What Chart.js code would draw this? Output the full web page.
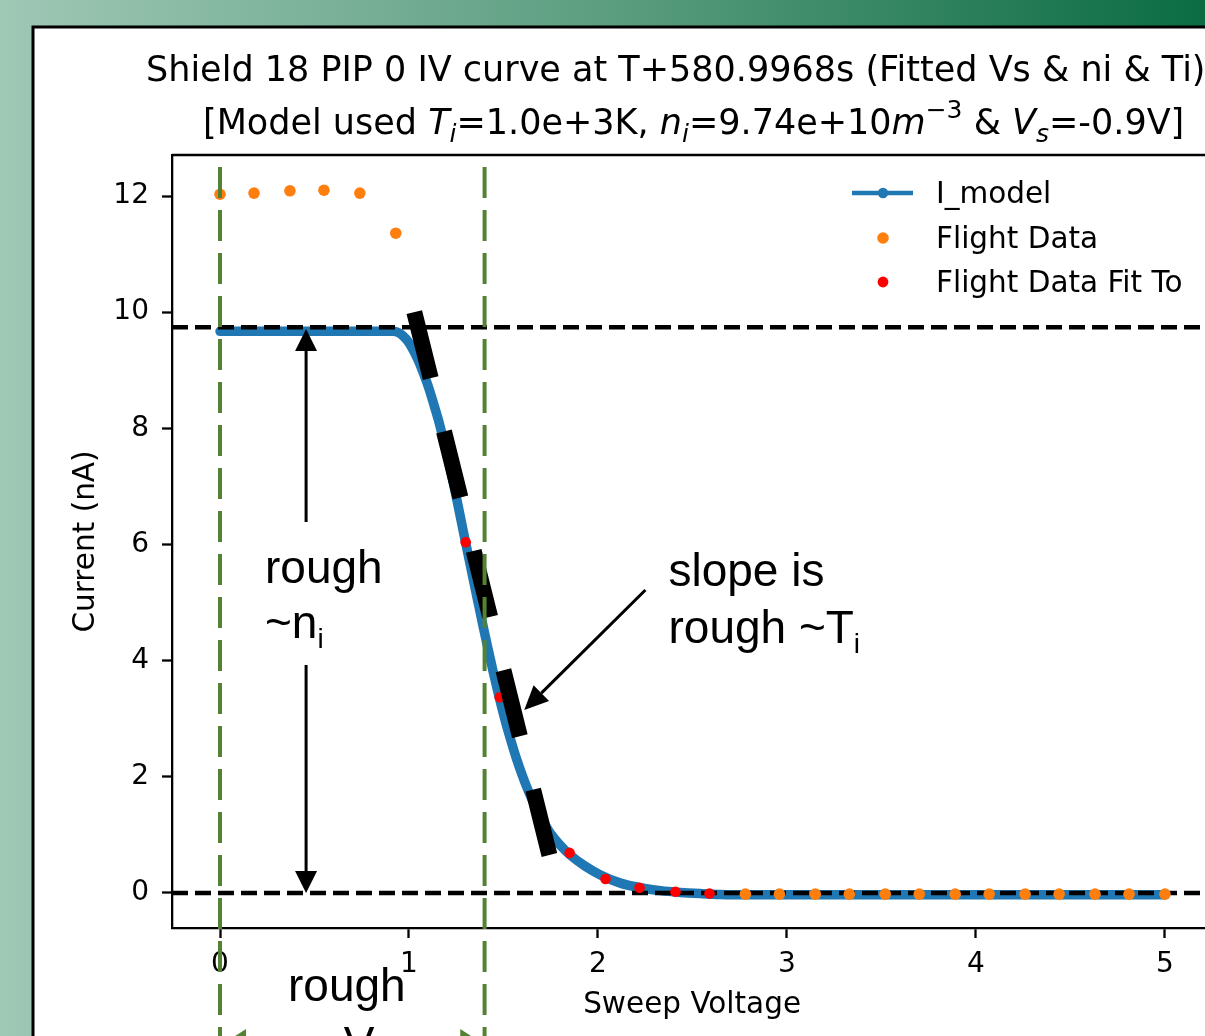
<!DOCTYPE html>
<html>
<head>
<meta charset="utf-8">
<script src="https://cdn.jsdelivr.net/npm/chart.js@4.4.0/dist/chart.umd.min.js"></script>
<style>
  html, body { margin: 0; padding: 0; background: #fff; overflow: hidden; }
  canvas { display: block; }
</style>
</head>
<body>
<canvas id="ivChart" width="1218" height="1036"></canvas>
<script>
// axis ranges and tick labels (the axes run a little past the right edge of the slide)
const xMin = -0.254, xMax = 5.25;
const yMin = -0.603, yMax = 12.706;
const xTicks = [0, 1, 2, 3, 4, 5];
const yTicks = [0, 2, 4, 6, 8, 10, 12];

// I_model curve
const modelV = [0, 0.916, 0.943, 0.969, 0.996, 1.022, 1.049, 1.075, 1.102, 1.128, 1.155, 1.181, 1.208,
                1.234, 1.261, 1.287, 1.314, 1.340, 1.367, 1.393, 1.419, 1.446, 1.472, 1.504, 1.536,
                1.568, 1.600, 1.631, 1.668, 1.706, 1.748, 1.801, 1.854, 1.933, 2.013, 2.119, 2.225,
                2.331, 2.436, 2.542, 2.648, 2.8, 5.0];
const modelI = [9.67, 9.67, 9.65, 9.59, 9.49, 9.35, 9.17, 8.96, 8.72, 8.45, 8.15, 7.82, 7.46,
                7.07, 6.65, 6.23, 5.81, 5.40, 4.98, 4.58, 4.19, 3.80, 3.44, 3.03, 2.66,
                2.32, 2.02, 1.76, 1.49, 1.25, 1.03, 0.82, 0.65, 0.46, 0.31, 0.17, 0.09,
                0.04, 0.01, -0.01, -0.025, -0.03, -0.03];

// flight data (orange) and the part that was fitted (red)
const flightV = [0, 0.18, 0.37, 0.55, 0.74, 0.93,
                 2.78, 2.96, 3.15, 3.33, 3.52, 3.70, 3.89, 4.07, 4.26, 4.44, 4.63, 4.81, 5.0];
const flightI = [12.03, 12.05, 12.09, 12.10, 12.05, 11.36,
                 -0.02, -0.02, -0.02, -0.02, -0.02, -0.02, -0.02, -0.02, -0.02, -0.02, -0.02, -0.02, -0.02];
const fitV = [1.30, 1.48, 1.67, 1.85, 2.04, 2.22, 2.41, 2.59];
const fitI = [6.04, 3.37, 1.55, 0.69, 0.24, 0.09, 0.02, -0.01];

// model levels (n_i plateau and zero) and the Vs window edges
const levelI = [9.74, 0];
const vsLines = [0, 1.4];

const pts = (xs, ys) => xs.map((x, i) => ({x: x, y: ys[i]}));

const levelSets = levelI.map(v => ({
    label: 'level',
    data: [{x: xMin, y: v}, {x: xMax, y: v}],
    showLine: true,
    borderColor: '#000',
    borderWidth: 4.3,
    borderDash: [16, 7],
    pointRadius: 0,
    order: 4
}));

function arrowHead(ctx, tx, ty, fx, fy, len, half) {
    const a = Math.atan2(ty - fy, tx - fx);
    const bx = tx - Math.cos(a) * len, by = ty - Math.sin(a) * len;
    ctx.beginPath();
    ctx.moveTo(tx, ty);
    ctx.lineTo(bx + Math.sin(a) * half, by - Math.cos(a) * half);
    ctx.lineTo(bx - Math.sin(a) * half, by + Math.cos(a) * half);
    ctx.closePath();
    ctx.fill();
    return [bx, by];
}

// text with italic parts and sub/superscripts
function drawRich(ctx, parts, x, y, size, family, align) {
    const fontFor = p => (p.it ? 'italic ' : '') + ((p.sub || p.sup) ? Math.round(size * p.k) : size) + 'px ' + family;
    let w = 0;
    parts.forEach(p => { p.k = p.k || 0.7; ctx.font = fontFor(p); p.w = ctx.measureText(p.t).width; w += p.w; });
    let cx = align === 'center' ? x - w / 2 : x;
    ctx.textAlign = 'left';
    ctx.textBaseline = 'alphabetic';
    parts.forEach(p => {
        ctx.font = fontFor(p);
        const dy = p.sub ? size * p.dy : p.sup ? -size * 0.47 : 0;
        ctx.fillText(p.t, cx, y + dy);
        cx += p.w;
    });
}

const slidePlugin = {
    id: 'slide',
    beforeDraw(chart) {
        const {ctx, height} = chart;
        ctx.save();
        const g = ctx.createLinearGradient(0, 0, 1205, 0);
        g.addColorStop(0, '#9fc8b5');
        g.addColorStop(0.5, '#5c9e80');
        g.addColorStop(1, '#0b6c42');
        ctx.fillStyle = g;
        ctx.fillRect(0, 0, chart.width, height);
        ctx.fillStyle = '#fff';
        ctx.fillRect(33, 27, chart.width, height);
        ctx.strokeStyle = '#000';
        ctx.lineWidth = 3;
        ctx.strokeRect(33, 27, chart.width + 20, height + 20);
        ctx.restore();
    },
    afterDraw(chart) {
        const {ctx, chartArea, height} = chart;
        const sx = v => chart.scales.x.getPixelForValue(v);
        const sy = v => chart.scales.y.getPixelForValue(v);
        ctx.save();

        // top spine
        ctx.strokeStyle = '#000';
        ctx.lineWidth = 2.3;
        ctx.beginPath();
        ctx.moveTo(chartArea.left, chartArea.top);
        ctx.lineTo(chartArea.right, chartArea.top);
        ctx.stroke();

        // title
        ctx.fillStyle = '#000';
        const fam = '"DejaVu Sans"';
        drawRich(ctx, [{t: 'Shield 18 PIP 0 IV curve at T+580.9968s (Fitted Vs & ni & Ti)'}], 146, 81, 35, fam, 'left');
        drawRich(ctx, [
            {t: '[Model used '}, {t: 'T', it: 1}, {t: 'i', it: 1, sub: 1, dy: 0.22},
            {t: '=1.0e+3K, '}, {t: 'n', it: 1}, {t: 'i', it: 1, sub: 1, dy: 0.22},
            {t: '=9.74e+10'}, {t: 'm', it: 1}, {t: '\u22123', sup: 1},
            {t: ' & '}, {t: 'V', it: 1}, {t: 's', it: 1, sub: 1, dy: 0.22}, {t: '=-0.9V]'}
        ], 203, 134, 35, fam, 'left');

        // legend
        const lx = 852, rows = [193, 238, 282];
        ctx.strokeStyle = '#1f77b4';
        ctx.lineWidth = 4.3;
        ctx.beginPath();
        ctx.moveTo(lx, rows[0]);
        ctx.lineTo(lx + 61, rows[0]);
        ctx.stroke();
        [['#1f77b4', 5.2], ['#ff7f0e', 5.8], ['#ff0000', 5.4]].forEach((m, i) => {
            ctx.fillStyle = m[0];
            ctx.beginPath();
            ctx.arc(lx + 31, rows[i], m[1], 0, Math.PI * 2);
            ctx.fill();
        });
        ctx.fillStyle = '#000';
        ctx.font = '29.5px ' + fam;
        ctx.textBaseline = 'alphabetic';
        ['I_model', 'Flight Data', 'Flight Data Fit To'].forEach((t, i) => ctx.fillText(t, 936, rows[i] + 10));

        // thick dashed slope guide
        ctx.strokeStyle = '#000';
        ctx.lineWidth = 16;
        ctx.lineCap = 'butt';
        ctx.setLineDash([68, 55]);
        ctx.beginPath();
        ctx.moveTo(sx(1.028), sy(10.0));
        ctx.lineTo(sx(1.743), sy(0.654));
        ctx.stroke();
        ctx.setLineDash([]);

        // vertical double arrow (n_i)
        ctx.fillStyle = '#000';
        ctx.lineWidth = 3;
        const ax = sx(0.4555);
        const topB = arrowHead(ctx, ax, sy(9.71), ax, sy(5), 22, 11);
        const botB = arrowHead(ctx, ax, sy(0), ax, sy(5), 22, 11);
        ctx.beginPath();
        ctx.moveTo(ax, topB[1]); ctx.lineTo(ax, sy(6.387));
        ctx.moveTo(ax, sy(3.925)); ctx.lineTo(ax, botB[1]);
        ctx.stroke();

        // slope arrow
        const s0x = sx(2.251), s0y = sy(5.217), s1x = sx(1.61), s1y = sy(3.15);
        const sb = arrowHead(ctx, s1x, s1y, s0x, s0y, 24, 11);
        ctx.beginPath();
        ctx.moveTo(s0x, s0y); ctx.lineTo(sb[0], sb[1]);
        ctx.stroke();

        // annotation text
        const af = '"Liberation Sans", Arial';
        drawRich(ctx, [{t: 'rough'}], sx(0.238), sy(5.337), 46, af, 'left');
        drawRich(ctx, [{t: '~n'}, {t: 'i', sub: 1, k: 0.6, dy: 0.22}], sx(0.238), sy(4.39), 46, af, 'left');
        drawRich(ctx, [{t: 'slope is'}], sx(2.373), sy(5.286), 46, af, 'left');
        drawRich(ctx, [{t: 'rough ~T'}, {t: 'i', sub: 1, k: 0.6, dy: 0.22}], sx(2.373), sy(4.304), 46, af, 'left');
        drawRich(ctx, [{t: 'rough'}], sx(0.36), sy(-1.859), 46, af, 'left');
        drawRich(ctx, [{t: '~V'}, {t: 's', sub: 1, k: 0.6, dy: 0.22}], sx(0.513), sy(-2.858), 46, af, 'left');

        // Vs window: green dashed edges and double arrow
        ctx.strokeStyle = '#548235';
        ctx.fillStyle = '#548235';
        ctx.lineWidth = 4;
        ctx.setLineDash([31, 12]);
        vsLines.forEach(v => {
            ctx.beginPath();
            ctx.moveTo(sx(v), 167);
            ctx.lineTo(sx(v), height);
            ctx.stroke();
        });
        ctx.setLineDash([]);
        const gy = sy(-2.565);
        const gl = arrowHead(ctx, sx(0.032), gy, sx(1), gy, 20, 13);
        const gr = arrowHead(ctx, sx(1.377), gy, sx(0.5), gy, 20, 13);
        ctx.lineWidth = 3;
        ctx.beginPath();
        ctx.moveTo(gl[0], gy); ctx.lineTo(gr[0], gy);
        ctx.stroke();

        ctx.restore();
    }
};

const tickFont = {family: 'DejaVu Sans', size: 28};
const labelFont = {family: 'DejaVu Sans', size: 29.5};

new Chart(document.getElementById('ivChart'), {
    type: 'scatter',
    data: {
        datasets: [
            {
                label: 'I_model',
                data: pts(modelV, modelI),
                showLine: true,
                borderColor: '#1f77b4',
                borderWidth: 9.5,
                borderCapStyle: 'round',
                cubicInterpolationMode: 'monotone',
                pointRadius: 0,
                order: 5
            },
            ...levelSets,
            {
                label: 'Flight Data',
                data: pts(flightV, flightI),
                backgroundColor: '#ff7f0e',
                pointRadius: 5.8,
                pointBorderWidth: 0,
                order: 2
            },
            {
                label: 'Flight Data Fit To',
                data: pts(fitV, fitI),
                backgroundColor: '#ff0000',
                pointRadius: 5.3,
                pointBorderWidth: 0,
                order: 1
            }
        ]
    },
    options: {
        responsive: false,
        animation: false,
        devicePixelRatio: 1,
        layout: {padding: {top: 155, left: 0, right: 0, bottom: 0}},
        plugins: {
            legend: {display: false},
            tooltip: {enabled: false},
            title: {display: false}
        },
        scales: {
            x: {
                type: 'linear',
                position: 'bottom',
                min: xMin,
                max: xMax,
                afterFit: s => { s.height = 108; },
                afterBuildTicks: s => { s.ticks = xTicks.map(v => ({value: v})); },
                grid: {drawOnChartArea: false, drawTicks: true, tickLength: 10, tickWidth: 2.3, tickColor: '#000', color: '#000'},
                border: {display: true, color: '#000', width: 2.3},
                ticks: {color: '#000', font: tickFont, padding: 10, maxRotation: 0, autoSkip: false},
                title: {display: true, text: 'Sweep Voltage', color: '#000', font: labelFont, padding: {top: 0, bottom: 13}}
            },
            y: {
                type: 'linear',
                position: 'left',
                min: yMin,
                max: yMax,
                afterFit: s => { s.width = 172; },
                afterBuildTicks: s => { s.ticks = yTicks.map(v => ({value: v})); },
                grid: {drawOnChartArea: false, drawTicks: true, tickLength: 10, tickWidth: 2.3, tickColor: '#000', color: '#000'},
                border: {display: true, color: '#000', width: 2.3},
                ticks: {color: '#000', font: tickFont, padding: 13, autoSkip: false},
                title: {display: true, text: 'Current (nA)', color: '#000', font: labelFont, padding: {top: 69, bottom: 0}}
            }
        }
    },
    plugins: [slidePlugin]
});
</script>
</body>
</html>
